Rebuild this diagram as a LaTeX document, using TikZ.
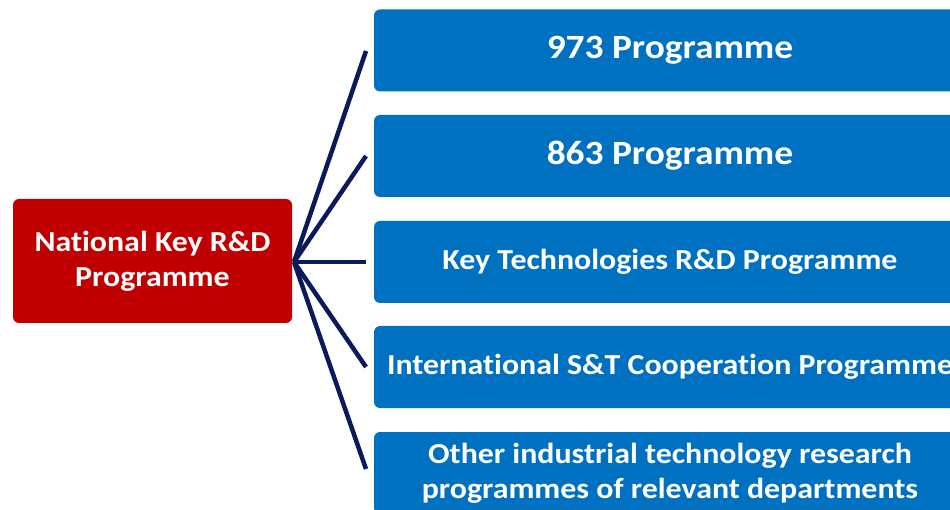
\documentclass[tikz,border=0pt]{standalone}
\usepackage{fontspec}
\setmainfont{Carlito}[FakeStretch=1.1, Ligatures=NoCommon]
\definecolor{redbox}{HTML}{C00000}
\definecolor{bluebox}{HTML}{0070C0}
\definecolor{navy}{HTML}{0A1A5A}
\begin{document}
\begin{tikzpicture}[x=1pt,y=-1pt,
  box/.style={rounded corners=6pt, inner sep=0pt, align=center, text=white, font=\bfseries},
  redrect/.style={box, fill=redbox},
  bluerect/.style={box, fill=bluebox},
  bigtxt/.style={font=\bfseries\fontsize{34}{36}\selectfont},
  midtxt/.style={font=\bfseries\fontsize{29}{35}\selectfont},
  link/.style={draw=navy, line width=4.5pt}]
\useasboundingbox (0,0) rectangle (950,510);
\clip (0,0) rectangle (950,510);
% hub box
\node[redrect, midtxt, minimum width=279pt, minimum height=124pt] (hub) at (152.5,261) {National Key R\&D\\Programme};
% branch boxes
\node[bluerect, bigtxt, minimum width=592pt, minimum height=82pt] (b1) at (670,50.5) {973 Programme};
\node[bluerect, bigtxt, minimum width=592pt, minimum height=82pt] (b2) at (670,156) {863 Programme};
\node[bluerect, midtxt, minimum width=592pt, minimum height=82pt] (b3) at (670,262) {Key Technologies R\&D Programme};
\node[bluerect, midtxt, minimum width=592pt, minimum height=82pt] (b4) at (670,367) {International S\&T Cooperation Programme};
\node[bluerect, midtxt, minimum width=592pt, minimum height=82pt] (b5) at (670,473) {Other industrial technology research\\programmes of relevant departments};
% connectors
\coordinate (hc) at (294,262);
\foreach \b/\y in {b1/51, b2/156, b3/262, b4/367, b5/469} {
  \coordinate (e\b) at (366,\y);
  \draw[link] (hc) -- (e\b);
}
\end{tikzpicture}
\end{document}
